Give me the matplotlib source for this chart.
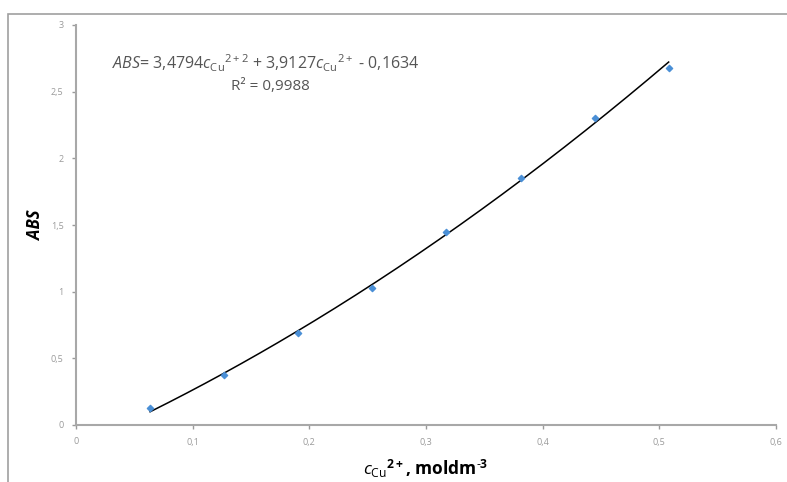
import matplotlib.pyplot as plt
import numpy as np
from matplotlib.patches import Rectangle
from matplotlib.ticker import FuncFormatter

plt.rcParams['font.family'] = ['Open Sans', 'DejaVu Sans']
plt.rcParams['mathtext.fontset'] = 'custom'
plt.rcParams['mathtext.rm'] = 'Open Sans'
plt.rcParams['mathtext.it'] = 'Open Sans:italic'
plt.rcParams['mathtext.bf'] = 'Open Sans:bold'

# measured points
conc = [0.0635, 0.127, 0.1905, 0.254, 0.3175, 0.381, 0.4445, 0.508]
absorb = [0.125, 0.375, 0.688, 1.025, 1.444, 1.855, 2.305, 2.676]
# trendline coefficients (from the chart equation)
fit_coef = [3.4794, 3.9127, -0.1634]
r2_text = "R² = 0,9988"

x_ticks = [0, 0.1, 0.2, 0.3, 0.4, 0.5, 0.6]
y_ticks = [0, 0.5, 1, 1.5, 2, 2.5, 3]

fig = plt.figure(figsize=(7.87, 4.82), dpi=100)
ax = fig.add_axes([76/787, 57/482, 700/787, 400/482])

# outer chart frame
fig.patches.append(Rectangle((8/787, -0.1), 1.1, 1 - 14/482 + 0.1,
                             transform=fig.transFigure, fill=False,
                             edgecolor='#a0a0a0', lw=1.2))

xf = np.linspace(min(conc), max(conc), 200)
ax.plot(xf, np.polyval(fit_coef, xf), color='black', lw=1.1, zorder=2)
ax.scatter(conc, absorb, marker='D', s=10, color='#4a8fd6', zorder=3)

ax.set_xlim(0, 0.6)
ax.set_ylim(0, 3)
ax.set_xticks(x_ticks)
ax.set_yticks(y_ticks)
fmt = FuncFormatter(lambda v, p: ('%g' % v).replace('.', ','))
ax.xaxis.set_major_formatter(fmt)
ax.yaxis.set_major_formatter(fmt)
ax.tick_params(colors='#9a9a9a', labelsize=6.5, length=3, width=1)
ax.tick_params(axis='y', direction='out', pad=6)
ax.tick_params(axis='x', direction='out', pad=6)
for s in ['top', 'right']:
    ax.spines[s].set_visible(False)
for s in ['left', 'bottom']:
    ax.spines[s].set_color('#a8a8a8')
    ax.spines[s].set_linewidth(1.5)

ax.set_ylabel('ABS', fontsize=12, fontweight='bold', fontstyle='italic',
              labelpad=4)
ax.set_xlabel(r'$c_{\mathrm{Cu}}$$^{\mathregular{2+}}$, moldm$^{\mathregular{\text{-}3}}$',
              fontsize=12.5, fontweight='bold', labelpad=8)

eq = (r'$ABS$= 3,4794$c_{\mathrm{Cu}}$$^{\mathregular{2+ 2}}$'
      r' + 3,9127$c_{\mathrm{Cu}}$$^{\mathregular{2+}}$ - 0,1634')
ax.text(0.031, 2.71, eq, fontsize=11.5, color='#555555', ha='left', va='center')
ax.text(0.167, 2.535, r2_text, fontsize=11, color='#555555', ha='center',
        va='center')

fig.savefig('out.png', dpi=100)
